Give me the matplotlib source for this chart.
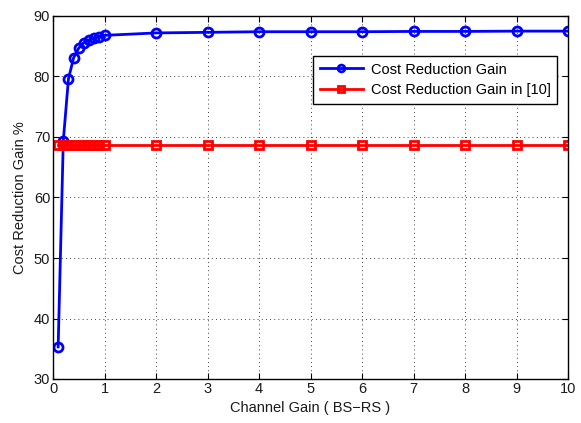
import matplotlib
matplotlib.use("Agg")
import matplotlib.pyplot as plt

plt.rcParams['font.family'] = ['Liberation Sans', 'DejaVu Sans']

channel_gain = [0.1, 0.2, 0.3, 0.4, 0.5, 0.6, 0.7, 0.8, 0.9, 1.0,
                2, 3, 4, 5, 6, 7, 8, 9, 10]
gain_proposed = [35.3, 69.4, 79.6, 83.1, 84.7, 85.6, 86.0, 86.3, 86.6, 86.8,
                 87.2, 87.3, 87.4, 87.4, 87.4, 87.45, 87.45, 87.5, 87.5]
gain_ref10 = [68.7] * len(channel_gain)

xticks = [0, 1, 2, 3, 4, 5, 6, 7, 8, 9, 10]
yticks = [30, 40, 50, 60, 70, 80, 90]

fig = plt.figure(figsize=(5.81, 4.23), dpi=100)
ax = fig.add_axes([53/581, 1-379/423, (568-53)/581, (379-16)/423])

ax.plot(channel_gain, gain_proposed, color='#0000ff', linewidth=2, marker='o',
        markersize=6.5, markerfacecolor='none', markeredgewidth=2,
        label='Cost Reduction Gain')
ax.plot(channel_gain, gain_ref10, color='#ff0000', linewidth=2, marker='s',
        markersize=5.5, markerfacecolor='none', markeredgewidth=2,
        label='Cost Reduction Gain in [10]')

ax.set_xlim(0, 10)
ax.set_ylim(30, 90)
ax.set_xticks(xticks)
ax.set_yticks(yticks)
ax.tick_params(direction='in', top=True, right=True, labelsize=10.5,
               length=4, pad=2, labelcolor='#1a1a1a')
ax.grid(True, linestyle=(0, (1, 4)), color='black', linewidth=0.6)
for s in ax.spines.values():
    s.set_linewidth(1.0)

ax.set_xlabel('Channel Gain ( BS\u2212RS )', fontsize=10.5, labelpad=4,
              color='#1a1a1a')
ax.set_ylabel('Cost Reduction Gain %', fontsize=10.5, labelpad=5,
              color='#1a1a1a')

leg = ax.legend(loc='upper right', bbox_to_anchor=(557/581, 1-56/423),
                bbox_transform=fig.transFigure, fontsize=10.5, fancybox=False,
                edgecolor='black', framealpha=1, borderaxespad=0,
                handlelength=3.0, handletextpad=0.5, borderpad=0.45,
                labelspacing=0.45, markerscale=0.75)
leg.get_frame().set_linewidth(1.0)

fig.savefig('out.png', dpi=100)
